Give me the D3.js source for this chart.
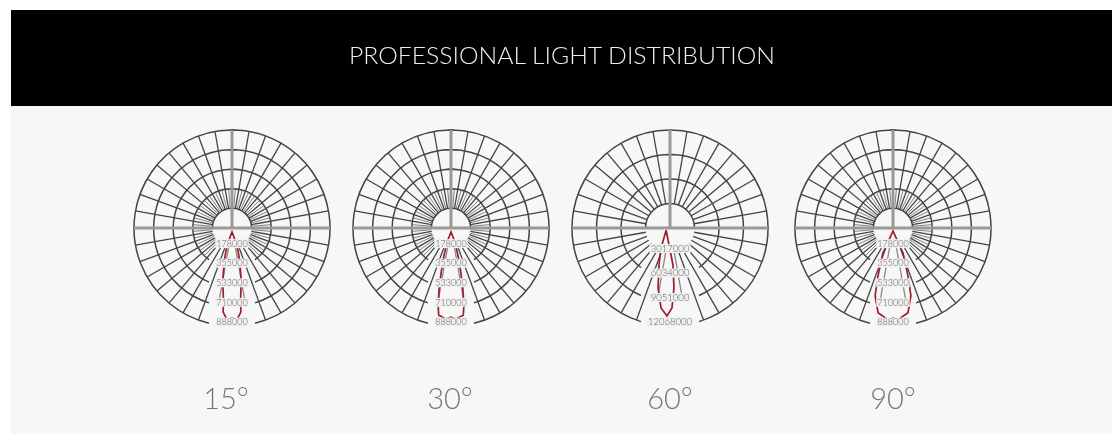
<!DOCTYPE html>
<html>
<head>
<meta charset="utf-8">
<title>Professional light distribution</title>
<script src="https://cdn.jsdelivr.net/npm/d3@7/dist/d3.min.js"></script>
<style>
  html, body { margin: 0; padding: 0; background: #fff; overflow: hidden; }
  svg { display: block; }
  text { font-family: Lato, "Open Sans", sans-serif; font-weight: 300; }
</style>
</head>
<body>
<svg id="chart" width="1112" height="434"></svg>
<script>
const title = "PROFESSIONAL LIGHT DISTRIBUTION";
const beamLabels = ["15°", "30°", "60°", "90°"];

// ring values in candela, read (roughly) off the blurred labels
const rings15 = [178000, 355000, 533000, 710000, 888000];
const rings30 = [178000, 355000, 533000, 710000, 888000];
const rings60 = [3017000, 6034000, 9051000, 12068000];
const rings90 = [178000, 355000, 533000, 710000, 888000];

// beam outline: angle from straight down (deg) and intensity
const angles15 = [0, -14, -15, -13, -10, -7, -6, -3, 0, 3, 6, 7, 10, 13, 15, 14];
const values15 = [36000, 112000, 208000, 317000, 480000, 643000, 766000, 834000, 815000, 834000, 766000, 643000, 480000, 317000, 208000, 112000];
const angles30 = [0, -16, -14, -12.5, -11, -9.5, -8, -3, 0, 3, 8, 9.5, 11, 12.5, 14, 16];
const values30 = [36000, 131000, 278000, 413000, 566000, 709000, 799000, 826000, 808000, 826000, 799000, 709000, 566000, 413000, 278000, 131000];
const angles60 = [-60, -24, -16.6, -11.3, -6.4, -2, 1.4, 3.8, 4.6];
const values60 = [550000, 2710000, 4750000, 7510000, 9910000, 10840000, 9850000, 7390000, 4560000];
const angles90 = [0, -19.6, -21.8, -17.4, -14.8, -10, -3, 0, 3, 10, 14.8, 17.4, 21.8, 19.6];
const values90 = [27000, 135000, 245000, 454000, 634000, 780000, 834000, 815000, 834000, 780000, 634000, 454000, 245000, 135000];

const spokeAngles = d3.range(0, 360, 10);
const innerSpokeAngles = d3.range(5, 360, 10);

const charts = [
  { label: beamLabels[0], rings: rings15, angles: angles15, values: values15, gap: 23, fontSize: 9 },
  { label: beamLabels[1], rings: rings30, angles: angles30, values: values30, gap: 23, fontSize: 9 },
  { label: beamLabels[2], rings: rings60, angles: angles60, values: values60, gap: 29, fontSize: 9.5 },
  { label: beamLabels[3], rings: rings90, angles: angles90, values: values90, gap: 23, fontSize: 9 },
];

const width = 1112;
const height = 434;
const radius = 98;
const cy = 228;
const toRad = (d) => (d * Math.PI) / 180;

const svg = d3.select("#chart");
const centerX = d3.scaleOrdinal().domain(beamLabels).range([232, 451, 670, 893]);
const captionX = d3.scaleOrdinal().domain(beamLabels).range([226, 450, 670, 893]);

const defs = svg.append("defs");
defs.append("filter").attr("id", "soft").attr("x", "-5%").attr("y", "-10%").attr("width", "110%").attr("height", "120%")
  .append("feGaussianBlur").attr("stdDeviation", 0.55);
defs.append("filter").attr("id", "soft-text").attr("x", "-5%").attr("y", "-10%").attr("width", "110%").attr("height", "120%")
  .append("feGaussianBlur").attr("stdDeviation", 0.45);

// page panels
svg.append("rect").attr("x", 11).attr("y", 10).attr("width", width - 11).attr("height", height - 10).attr("fill", "#f7f7f7");
svg.append("rect").attr("x", 11).attr("y", 10).attr("width", width - 11).attr("height", 96).attr("fill", "#000");

svg.append("text")
  .attr("x", 562)
  .attr("y", 64)
  .attr("text-anchor", "middle")
  .attr("font-size", 23)
  .attr("fill", "#eee")
  .attr("textLength", 426)
  .attr("lengthAdjust", "spacingAndGlyphs")
  .attr("filter", "url(#soft-text)")
  .text(title);

const groups = svg.selectAll("g.polar")
  .data(charts)
  .join("g")
  .attr("class", "polar")
  .attr("filter", "url(#soft)")
  .attr("transform", (d) => `translate(${centerX(d.label)},${cy})`);

groups.each(function (d) {
  const g = d3.select(this);
  const r = d3.scaleLinear().domain([0, d.rings[d.rings.length - 1]]).range([0, radius]);
  const hole = r(d.rings[0]);
  const lastInner = r(d.rings[d.rings.length - 2]);
  const isBottom = (a) => a === 170 || a === 190;

  // rings, open at the bottom where the labels sit
  const arc = d3.arc();
  g.selectAll("path.ring")
    .data(d.rings)
    .join("path")
    .attr("class", "ring")
    .attr("fill", "none")
    .attr("stroke", "#444")
    .attr("stroke-width", 1.5)
    .attr("d", (v) => {
      const rr = r(v);
      const open = Math.asin(Math.min(d.gap / rr, 1));
      return arc({ innerRadius: rr, outerRadius: rr, startAngle: -Math.PI + open, endAngle: Math.PI - open });
    });

  // spokes; the cardinal ones are drawn separately, the bottom one is left out
  g.selectAll("line.spoke")
    .data(spokeAngles.filter((a) => a % 90 !== 0))
    .join("line")
    .attr("class", "spoke")
    .attr("stroke", (a) => (isBottom(a) ? "#888" : "#444"))
    .attr("stroke-width", 1.3)
    .attr("x1", (a) => hole * Math.sin(toRad(a)))
    .attr("y1", (a) => -hole * Math.cos(toRad(a)))
    .attr("x2", (a) => (isBottom(a) ? lastInner : radius) * Math.sin(toRad(a)))
    .attr("y2", (a) => -(isBottom(a) ? lastInner : radius) * Math.cos(toRad(a)));

  // extra spokes between the first two rings, only on the 5-ring charts
  g.selectAll("line.inner-spoke")
    .data(d.rings.length > 4 ? innerSpokeAngles.filter((a) => a < 145 || a > 215) : [])
    .join("line")
    .attr("class", "inner-spoke")
    .attr("stroke", "#666")
    .attr("stroke-width", 0.8)
    .attr("x1", (a) => hole * Math.sin(toRad(a)))
    .attr("y1", (a) => -hole * Math.cos(toRad(a)))
    .attr("x2", (a) => r(d.rings[1]) * Math.sin(toRad(a)))
    .attr("y2", (a) => -r(d.rings[1]) * Math.cos(toRad(a)));

  // thick cross through the centre
  g.selectAll("line.cross")
    .data([[-radius, 0, radius, 0], [0, -radius, 0, 0]])
    .join("line")
    .attr("class", "cross")
    .attr("stroke", "#999")
    .attr("stroke-width", 3)
    .attr("x1", (c) => c[0])
    .attr("y1", (c) => c[1])
    .attr("x2", (c) => c[2])
    .attr("y2", (c) => c[3]);

  // red beam outline
  const beam = d3.lineRadial()
    .angle((p) => toRad(180 - p[0]))
    .radius((p) => r(p[1]))
    .curve(d3.curveLinearClosed);
  g.append("path")
    .attr("fill", "none")
    .attr("stroke", "#a01c2a")
    .attr("stroke-width", 1.7)
    .attr("d", beam(d.angles.map((a, i) => [a, d.values[i]])));

  // ring labels knock a strip out of the lines behind them
  const labels = g.selectAll("g.ring-label")
    .data(d.rings)
    .join("g")
    .attr("class", "ring-label")
    .attr("transform", (v) => `translate(0,${r(v) - 4})`);
  labels.append("rect")
    .attr("x", (v) => -(String(v).length * d.fontSize * 0.62) / 2)
    .attr("y", -4.5)
    .attr("width", (v) => String(v).length * d.fontSize * 0.62)
    .attr("height", 9)
    .attr("fill", "#f0f0f0");
  labels.append("text")
    .attr("text-anchor", "middle")
    .attr("dy", "0.35em")
    .attr("font-size", d.fontSize)
    .attr("font-weight", 400)
    .attr("fill", "#666")
    .text((v) => v);
});

// beam angle captions
svg.selectAll("text.caption")
  .data(charts)
  .join("text")
  .attr("class", "caption")
  .attr("x", (d) => captionX(d.label))
  .attr("y", 409)
  .attr("text-anchor", "middle")
  .attr("font-size", 29)
  .attr("fill", "#777")
  .attr("filter", "url(#soft-text)")
  .text((d) => d.label);
</script>
</body>
</html>
